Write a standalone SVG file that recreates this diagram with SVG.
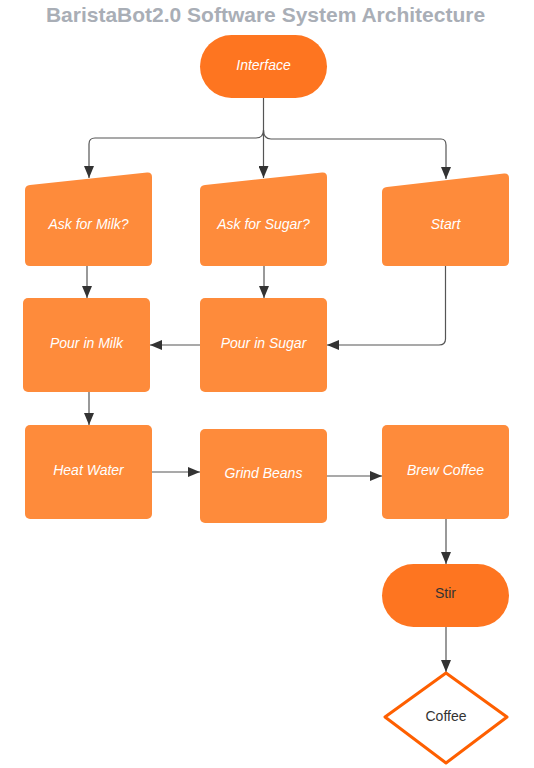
<svg xmlns="http://www.w3.org/2000/svg" width="534" height="768" viewBox="0 0 534 768">
<style>
.box{fill:#fe8b3b}
.term{fill:#fe7520}
.lbl{font-family:"Liberation Sans",Arial,sans-serif;font-size:14px;font-style:italic;fill:#ffffff;text-anchor:middle}
.dark{font-family:"Liberation Sans",Arial,sans-serif;font-size:14px;fill:#333333;text-anchor:middle}
.edge{fill:none;stroke:#555555;stroke-width:1.2}
</style>
<defs>
<marker id="arr" viewBox="0 0 12 10" refX="12" refY="5" markerWidth="12" markerHeight="10" markerUnits="userSpaceOnUse" orient="auto">
<path d="M0,0 L12,5 L0,10 Z" fill="#333333"/>
</marker>
</defs>
<rect width="534" height="768" fill="#ffffff"/>
<text x="265.5" y="22" font-family="Liberation Sans,Arial,sans-serif" font-size="21" font-weight="bold" fill="#a9aeb6" text-anchor="middle">BaristaBot2.0 Software System Architecture</text>

<g id="connectors">
<path class="edge" d="M263.5,98 L263.5,178" marker-end="url(#arr)"/>
<path class="edge" d="M263.5,130 Q263.5,138 256,138 L95,138 Q89,138 89,144 L89,178" marker-end="url(#arr)"/>
<path class="edge" d="M263.5,130 Q263.5,139 271,139 L441,139 Q446,139 446,145 L446,179" marker-end="url(#arr)"/>
<path class="edge" d="M87,266 L87,298" marker-end="url(#arr)"/>
<path class="edge" d="M264,266 L264,298" marker-end="url(#arr)"/>
<path class="edge" d="M445.5,266 L445.5,339 Q445.5,345 439,345 L327,345" marker-end="url(#arr)"/>
<path class="edge" d="M200,345 L150,345" marker-end="url(#arr)"/>
<path class="edge" d="M89,392 L89,425" marker-end="url(#arr)"/>
<path class="edge" d="M152,472 L200,472" marker-end="url(#arr)"/>
<path class="edge" d="M327,476 L382,476" marker-end="url(#arr)"/>
<path class="edge" d="M446,519 L446,564" marker-end="url(#arr)"/>
<path class="edge" d="M446,627 L446,672" marker-end="url(#arr)"/>
</g>

<g id="interface">
<rect class="term" x="200" y="35" width="127" height="63" rx="31.5"/>
<text class="lbl" x="263.5" y="70">Interface</text>
</g>
<g id="ask-milk">
<path class="box" d="M25,190 Q25,185.5 30,185 L147,172.5 Q152,172 152,177 L152,261 Q152,266 147,266 L30,266 Q25,266 25,261 Z"/>
<text class="lbl" x="88.5" y="229">Ask for Milk?</text>
</g>
<g id="ask-sugar">
<path class="box" d="M200,190 Q200,185.5 205,185 L322,172.5 Q327,172 327,177 L327,261 Q327,266 322,266 L205,266 Q200,266 200,261 Z"/>
<text class="lbl" x="263.5" y="229">Ask for Sugar?</text>
</g>
<g id="start">
<path class="box" d="M382,192 Q382,187.5 387,187 L504,173.5 Q509,173 509,178 L509,261 Q509,266 504,266 L387,266 Q382,266 382,261 Z"/>
<text class="lbl" x="445.5" y="229">Start</text>
</g>
<g id="pour-milk">
<rect class="box" x="23" y="298" width="127" height="94" rx="5"/>
<text class="lbl" x="86.5" y="348">Pour in Milk</text>
</g>
<g id="pour-sugar">
<rect class="box" x="200" y="298" width="127" height="94" rx="5"/>
<text class="lbl" x="263.5" y="348">Pour in Sugar</text>
</g>
<g id="heat-water">
<rect class="box" x="25" y="425" width="127" height="94" rx="5"/>
<text class="lbl" x="88.5" y="475">Heat Water</text>
</g>
<g id="grind-beans">
<rect class="box" x="200" y="429" width="127" height="94" rx="5"/>
<text class="lbl" x="263.5" y="478">Grind Beans</text>
</g>
<g id="brew-coffee">
<rect class="box" x="382" y="425" width="127" height="94" rx="5"/>
<text class="lbl" x="445.5" y="475">Brew Coffee</text>
</g>
<g id="stir">
<rect class="term" x="382" y="564" width="127" height="63" rx="31.5"/>
<text class="dark" x="445.5" y="598">Stir</text>
</g>
<g id="coffee">
<polygon points="446,673 507,717 446,763 385,717" fill="#ffffff" stroke="#fe5f00" stroke-width="3" stroke-linejoin="round"/>
<text class="dark" x="446" y="721">Coffee</text>
</g>
</svg>
